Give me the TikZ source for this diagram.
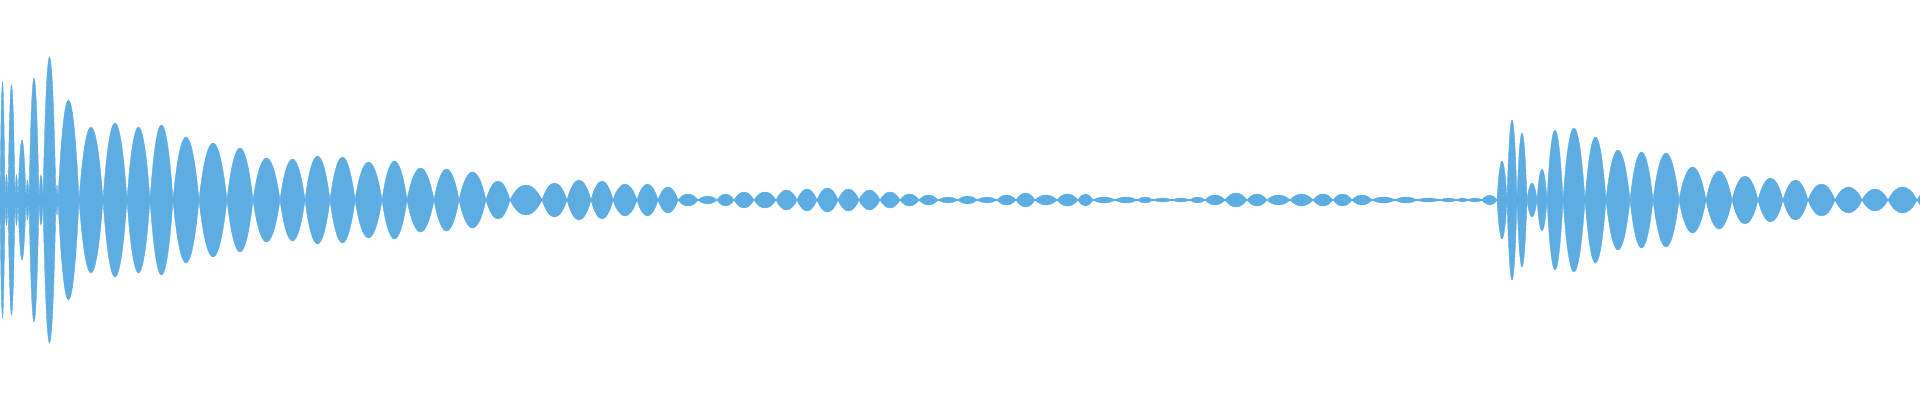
\documentclass[tikz,border=0pt]{standalone}
\usepackage{tikz}
\definecolor{wave}{HTML}{5DADE2}
\tikzset{
    lobe/.style={fill=wave, draw=wave, line width=0.4pt},
    baseline/.style={draw=wave, line width=1.2pt},
}
% one lobe of the envelope: start, end, half height
\newcommand{\wavelobe}[3]{%
  \pgfmathsetmacro{\wl}{(#2-#1)*0.3}%
  \pgfmathsetmacro{\hh}{#3/0.75}%
  \fill[lobe] (#1,200) .. controls ({#1+\wl},{200-\hh}) and ({#2-\wl},{200-\hh}) .. (#2,200)
     .. controls ({#2-\wl},{200+\hh}) and ({#1+\wl},{200+\hh}) .. (#1,200) -- cycle;}
\begin{document}
\begin{tikzpicture}[x=1pt,y=-1pt]
\useasboundingbox (0,0) rectangle (1920,400);
\coordinate (axisL) at (0,200);
\coordinate (axisR) at (1920,200);
\draw[baseline] (axisL) -- (axisR);

% first burst
\foreach \a/\b/\h in {0/5/118, 5/8/25, 8/15/115, 15/18/25, 18/26/60, 26/29/20, 29/39/122, 39/43/25,
  43/56/143, 56/58/15, 58/79/100, 79/103/73, 103/127/77, 127/150/73, 150/173/75, 173/199/63,
  199/227/57, 227/253/52, 253/280/42, 280/305/41, 305/330/44, 330/355/43, 355/382/38, 382/407/39,
  407/434/32, 434/459/31, 459/486/28, 486/510/19, 510/542/15, 542/567/17, 567/591/20, 591/613/19,
  613/637/16, 637/658/16, 658/678/13, 678/698/6, 698/717/4, 717/734/6, 734/754/8, 754/776/8,
  776/797/10, 797/817/11, 817/838/12, 838/859/11, 859/880/10, 880/900/8, 900/919/6, 919/938/5,
  938/958/3, 958/977/4, 977/997/3, 997/1016/5, 1016/1035/7, 1035/1057/5, 1057/1078/6, 1078/1093/6,
  1093/1115/3, 1115/1137/3, 1137/1153/3, 1153/1172/2, 1172/1190/2, 1190/1205/3, 1205/1225/5,
  1225/1247/7, 1247/1267/6, 1267/1290/5, 1290/1313/6, 1313/1333/6, 1333/1352/6, 1352/1372/5,
  1372/1395/3, 1395/1417/3, 1417/1440/2, 1440/1457/2, 1457/1468/2, 1468/1482/2, 1482/1497/5}
  {\wavelobe{\a}{\b}{\h}}

% second burst
\foreach \a/\b/\h in {1497/1507/39, 1507/1517/80, 1517/1527/67, 1527/1537/17, 1537/1547/31,
  1547/1563/70, 1563/1585/72, 1585/1606/63, 1606/1630/50, 1630/1653/48, 1653/1679/47,
  1679/1706/33, 1706/1732/29, 1732/1758/24, 1758/1783/22, 1783/1808/20, 1808/1835/16,
  1835/1862/13, 1862/1888/11, 1888/1917/13, 1917/1940/10}
  {\wavelobe{\a}{\b}{\h}}
\end{tikzpicture}
\end{document}
